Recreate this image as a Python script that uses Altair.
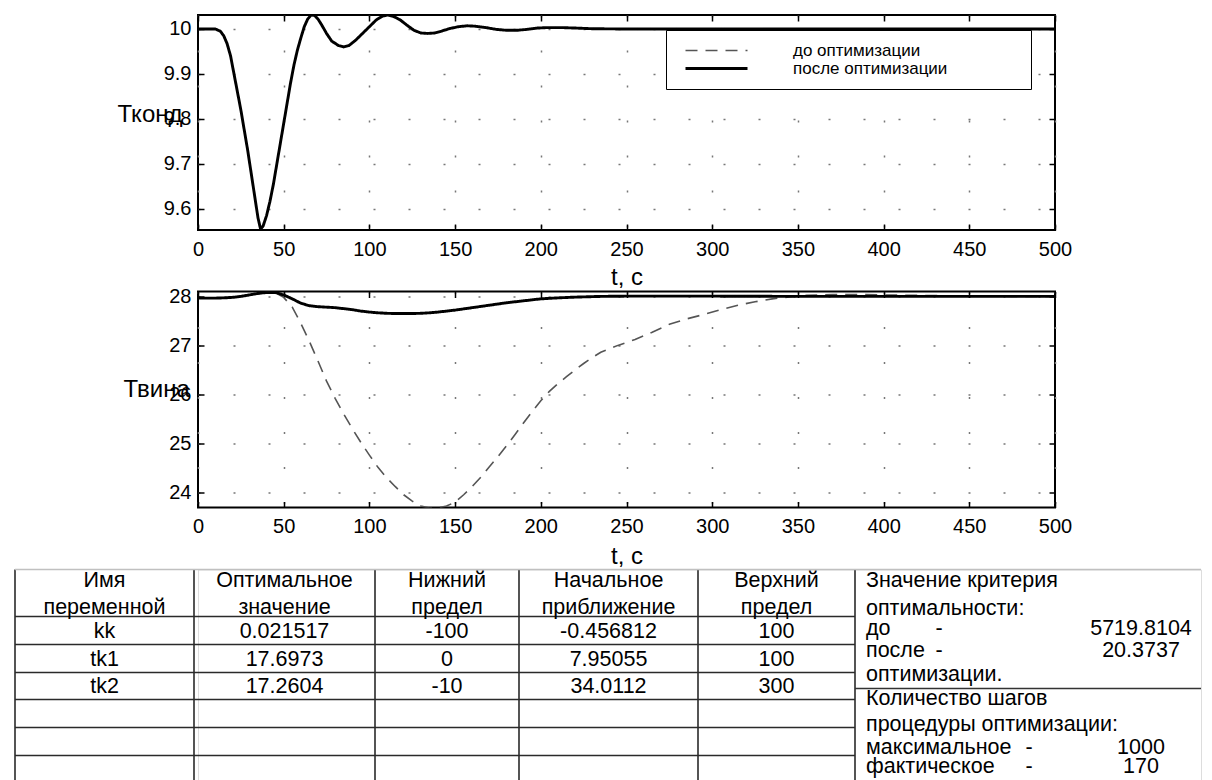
import altair as alt
import pandas as pd

FONT = "Liberation Sans"
SERIES = ["до оптимизации", "после оптимизации"]

# ---------------- data ----------------
T1_T = [0, 10, 13, 15, 17, 19, 21, 23, 25, 27, 29, 31, 33, 35, 36.5, 38, 40, 42, 44, 46,
        48, 50, 52, 54, 56, 58, 60, 62, 64, 66, 68, 70, 72, 75, 78, 82, 85, 88, 92, 96,
        100, 104, 108, 111, 114, 118, 122, 126, 130, 134, 138, 142, 147, 152, 157, 162, 168, 174, 180, 186,
        192, 198, 204, 212, 220, 230, 245, 300, 400, 500]
T1_AFTER = [10.000, 10.000, 9.995, 9.985, 9.967, 9.940, 9.900, 9.860, 9.820, 9.775,
            9.730, 9.680, 9.630, 9.580, 9.555, 9.562, 9.585, 9.617, 9.655, 9.700,
            9.745, 9.790, 9.835, 9.880, 9.920, 9.953, 9.980, 10.005, 10.022, 10.031,
            10.030, 10.022, 10.010, 9.990, 9.973, 9.963, 9.960, 9.963, 9.975, 9.990,
            10.005, 10.020, 10.029, 10.031, 10.028, 10.020, 10.008, 9.997, 9.991, 9.990,
            9.991, 9.995, 10.001, 10.005, 10.007, 10.006, 10.003, 9.999, 9.997, 9.997,
            9.999, 10.002, 10.003, 10.003, 10.002, 10.0005, 10.000, 10.000, 10.000, 10.000]

T2_T_BEFORE = [0, 10, 20, 30, 40, 45, 50, 55, 60, 65, 70, 75, 80, 85, 90, 95, 100, 105, 110, 115,
               120, 125, 130, 135, 140, 145, 150, 155, 160, 165, 170, 175, 180, 185, 190, 195, 200, 205, 210, 215,
               220, 225, 230, 235, 245, 255, 265, 275, 285, 295, 305, 315, 325, 335, 345, 355, 370, 385, 400, 420,
               450, 475, 500]
T2_BEFORE = [27.97, 27.97, 27.98, 28.03, 28.08, 28.08, 27.98, 27.78, 27.45, 27.08,
             26.68, 26.27, 25.92, 25.60, 25.30, 25.02, 24.76, 24.51, 24.30, 24.12,
             23.95, 23.82, 23.72, 23.68, 23.68, 23.72, 23.80, 23.95, 24.12, 24.31,
             24.52, 24.73, 24.95, 25.18, 25.42, 25.65, 25.87, 26.06, 26.22, 26.36,
             26.50, 26.63, 26.75, 26.86, 27.00, 27.12, 27.27, 27.43, 27.54, 27.63,
             27.73, 27.82, 27.89, 27.95, 27.99, 28.02, 28.04, 28.04, 28.03, 28.02,
             28.01, 28.00, 28.00]
T2_T_AFTER = [0, 10, 15, 20, 25, 30, 35, 40, 45, 50, 55, 60, 65, 70, 75, 80, 85, 90, 95, 100,
              105, 110, 115, 120, 125, 130, 135, 140, 145, 150, 160, 170, 180, 190, 200, 210, 220, 235, 250, 300,
              350, 400, 450, 500]
T2_AFTER = [27.965, 27.965, 27.97, 27.98, 28.00, 28.03, 28.06, 28.08, 28.08, 28.03,
            27.95, 27.86, 27.81, 27.79, 27.78, 27.77, 27.75, 27.73, 27.70, 27.68,
            27.665, 27.655, 27.65, 27.65, 27.65, 27.655, 27.665, 27.68, 27.70, 27.72,
            27.77, 27.82, 27.87, 27.91, 27.95, 27.97, 27.985, 28.00, 28.005, 28.005,
            28.00, 28.00, 28.00, 28.00]

X_TICKS = [0, 50, 100, 150, 200, 250, 300, 350, 400, 450, 500]
Y1_TICKS = [9.6, 9.7, 9.8, 9.9, 10]
Y2_TICKS = [24, 25, 26, 27, 28]
X_DOMAIN = [0, 500]
Y1_DOMAIN = [9.553, 10.031]
Y2_DOMAIN = [23.69, 28.10]
Y1_TITLE = "Тконд"
Y2_TITLE = "Твина"
X_TITLE = "t, c"

HEADERS = [["Имя", "переменной"], ["Оптимальное", "значение"], ["Нижний", "предел"],
           ["Начальное", "приближение"], ["Верхний", "предел"]]
VAR_NAMES = ["kk", "tk1", "tk2"]
OPT_VALUES = ["0.021517", "17.6973", "17.2604"]
LOWER_LIMITS = ["-100", "0", "-10"]
INITIAL_VALUES = ["-0.456812", "7.95055", "34.0112"]
UPPER_LIMITS = ["100", "100", "300"]
CRIT_TITLE = ["Значение критерия", "оптимальности:"]
CRIT_LABELS = ["до", "после"]
CRIT_VALUES = ["5719.8104", "20.3737"]
CRIT_TAIL = "оптимизации."
STEPS_TITLE = ["Количество шагов", "процедуры оптимизации:"]
STEPS_LABELS = ["максимальное", "фактическое"]
STEPS_VALUES = ["1000", "170"]

# ---------------- layout ----------------
PLOT_W = 857
PLOT_H1 = 215
PLOT_H2 = 216
COL_W = [179, 181, 144, 179, 157]
RIGHT_W = 346
ROW_H = [47, 28, 28, 27, 28, 28]
TABLE_H = 213
OVERHANG = 183
HEADER_Y = [11, 38]
RB_TEXT_DX = 11
RB_DASH_X = [924, 1014]
RB_VALUE_X = 1126
RB_Y = [11, 39, 59.5, 81, 105.5, 129.5, 155.5, 178, 197]
RB_DIVIDER = 119
TABLE_FS = 21.5

legend = alt.Legend(
    orient="none", legendX=468, legendY=15, title=None, symbolType="stroke",
    symbolSize=3844, clipHeight=17, labelFont=FONT, labelFontSize=17, labelColor="black",
    labelOffset=44, symbolOffset=6, padding=12, strokeColor="black", fillColor="white",
    rowPadding=0, labelLimit=600,
    labelExpr="pad(datum.label, 32, '\u00a0') + '\u200b'",
)


def plot(df, ydom, yticks, yfmt, ytitle, tx, ty, xty, h):
    xs = alt.Scale(domain=X_DOMAIN, nice=False, zero=False)
    ys = alt.Scale(domain=ydom, nice=False, zero=False)
    common = dict(offset=-6, domain=False, tickSize=6, tickColor="black", tickWidth=1.5)
    grid = dict(grid=True, gridDash=[2, 33], gridColor="#777777", gridWidth=1.5)
    lab = dict(labelFont=FONT, labelFontSize=20, labelColor="black")
    lines = alt.Chart(df).mark_line(clip=True).encode(
        x=alt.X("t:Q", scale=xs, axis=alt.Axis(
            orient="bottom", values=X_TICKS, format="d", labelPadding=9, labelFlush=False,
            title=X_TITLE, titleFont=FONT, titleFontSize=24, titleFontWeight="normal",
            titleColor="black", titleBaseline="middle", titleY=xty, **common, **grid, **lab)),
        y=alt.Y("v:Q", scale=ys, axis=alt.Axis(
            orient="left", values=yticks, format=yfmt, labelPadding=7,
            title=ytitle, titleAngle=0, titleAlign="left", titleBaseline="middle",
            titleX=tx, titleY=ty, titleFont=FONT, titleFontSize=24, titleFontWeight="normal",
            titleColor="black", **common, **grid, **lab)),
        color=alt.Color("series:N", scale=alt.Scale(domain=SERIES, range=["#555555", "#000000"]), legend=legend),
        strokeDash=alt.StrokeDash("series:N", scale=alt.Scale(domain=SERIES, range=[[12, 8], [1, 0]]), legend=legend),
        strokeWidth=alt.StrokeWidth("series:N", scale=alt.Scale(domain=SERIES, range=[1.6, 2.9]), legend=legend),
    )
    ghost = alt.Chart(df).mark_line(opacity=0).encode(
        x=alt.X("t:Q", scale=xs, axis=alt.Axis(orient="top", values=X_TICKS, labels=False, grid=False,
                                               title=None, **common)),
        y=alt.Y("v:Q", scale=ys, axis=alt.Axis(orient="right", values=yticks, labels=False, grid=False,
                                               title=None, **common)),
        detail="series:N",
    )
    return alt.layer(lines, ghost).properties(
        width=PLOT_W, height=h, view=alt.ViewBackground(stroke="black", strokeWidth=2))


df1 = pd.DataFrame({"t": T1_T, "v": T1_AFTER, "series": SERIES[1]})
df2 = pd.concat([
    pd.DataFrame({"t": T2_T_BEFORE, "v": T2_BEFORE, "series": SERIES[0]}),
    pd.DataFrame({"t": T2_T_AFTER, "v": T2_AFTER, "series": SERIES[1]}),
])

top = plot(df1, Y1_DOMAIN, Y1_TICKS, "~g", Y1_TITLE, -87, 99, 53, PLOT_H1)
bottom = plot(df2, Y2_DOMAIN, Y2_TICKS, "d", Y2_TITLE, -81, 98, 55, PLOT_H2)

# ---------------- table ----------------
col_edges = [0]
for w in COL_W:
    col_edges.append(col_edges[-1] + w)
right_edge = col_edges[-1] + RIGHT_W
row_edges = [0]
for hh in ROW_H:
    row_edges.append(row_edges[-1] + hh)
TABLE_W = right_edge - OVERHANG

vlines = pd.DataFrame({"x": col_edges, "y": 0, "y2": TABLE_H})
hlines = pd.DataFrame({"x": 0, "x2": col_edges[-1], "y": row_edges[1:]})
tline = pd.DataFrame({"x": [0, col_edges[-1]], "x2": [right_edge, right_edge], "y": [0, RB_DIVIDER],
                      "c": ["#c0c0c0", "#333333"]})

center_rows = []
for i, (l1, l2) in enumerate(HEADERS):
    cx = (col_edges[i] + col_edges[i + 1]) / 2
    center_rows.append({"x": cx, "y": HEADER_Y[0], "s": l1})
    center_rows.append({"x": cx, "y": HEADER_Y[1], "s": l2})
columns = [VAR_NAMES, OPT_VALUES, LOWER_LIMITS, INITIAL_VALUES, UPPER_LIMITS]
for r in range(3):
    cy = (row_edges[r + 1] + row_edges[r + 2]) / 2 + 1
    for i, col in enumerate(columns):
        cx = (col_edges[i] + col_edges[i + 1]) / 2
        center_rows.append({"x": cx, "y": cy, "s": col[r]})
for k in range(2):
    center_rows.append({"x": RB_VALUE_X, "y": RB_Y[2 + k], "s": CRIT_VALUES[k]})
    center_rows.append({"x": RB_VALUE_X, "y": RB_Y[7 + k], "s": STEPS_VALUES[k]})
    center_rows.append({"x": RB_DASH_X[0], "y": RB_Y[2 + k], "s": "-"})
    center_rows.append({"x": RB_DASH_X[1], "y": RB_Y[7 + k], "s": "-"})

lx = col_edges[-1] + RB_TEXT_DX
left_texts = [CRIT_TITLE[0], CRIT_TITLE[1], CRIT_LABELS[0], CRIT_LABELS[1], CRIT_TAIL,
              STEPS_TITLE[0], STEPS_TITLE[1], STEPS_LABELS[0], STEPS_LABELS[1]]
left_rows = [{"x": lx, "y": RB_Y[i], "s": s} for i, s in enumerate(left_texts)]

XT = alt.Scale(domain=[OVERHANG, OVERHANG + TABLE_W], nice=False, zero=False)
YT = alt.Scale(domain=[0, TABLE_H], reverse=True, nice=False, zero=False)

t_v = alt.Chart(vlines).mark_rule(color="#2a2a2a", strokeWidth=1.6).encode(
    x=alt.X("x:Q", scale=XT, axis=None), y=alt.Y("y:Q", scale=YT, axis=None), y2="y2:Q")
t_h = alt.Chart(hlines).mark_rule(color="#2a2a2a", strokeWidth=1.6).encode(
    x=alt.X("x:Q", scale=XT, axis=None), x2="x2:Q", y=alt.Y("y:Q", scale=YT, axis=None))
t_t = alt.Chart(tline).mark_rule(strokeWidth=1.6).encode(
    x=alt.X("x:Q", scale=XT, axis=None), x2="x2:Q", y=alt.Y("y:Q", scale=YT, axis=None),
    color=alt.Color("c:N", scale=None))
t_c = alt.Chart(pd.DataFrame(center_rows)).mark_text(
    align="center", baseline="middle", font=FONT, fontSize=TABLE_FS, color="black").encode(
    x=alt.X("x:Q", scale=XT, axis=None), y=alt.Y("y:Q", scale=YT, axis=None), text="s:N")
t_l = alt.Chart(pd.DataFrame(left_rows)).mark_text(
    align="left", baseline="middle", font=FONT, fontSize=TABLE_FS, color="black").encode(
    x=alt.X("x:Q", scale=XT, axis=None), y=alt.Y("y:Q", scale=YT, axis=None), text="s:N")

table = alt.layer(t_v, t_h, t_t, t_c, t_l).properties(width=TABLE_W, height=TABLE_H)

chart = alt.vconcat(top, bottom, table, spacing=-5.5).properties(
    padding={"left": 5, "top": 5, "right": 0, "bottom": 0}
).configure_view(strokeWidth=0).configure(background="white")

chart.save("out.html", embed_options={"renderer": "svg", "actions": False})
